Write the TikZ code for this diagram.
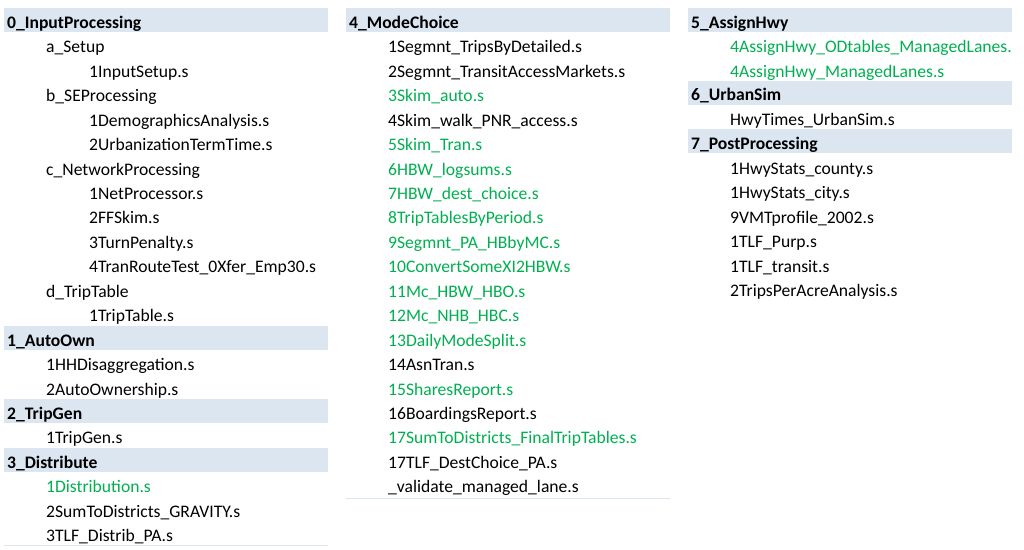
\documentclass[tikz,border=0pt]{standalone}
\usepackage{fontspec}
\setmainfont{Carlito}
\usepackage{xcolor}
\definecolor{HdrBlue}{HTML}{DCE6F1}
\definecolor{XlGreen}{HTML}{00B050}
\usepackage{tikz}

\begin{document}
\begin{tikzpicture}[x=1pt, y=-1pt,
		hdr/.style={anchor=base west, inner sep=0pt, font=\fontsize{17.6pt}{20pt}\selectfont\bfseries},
		itm/.style={anchor=base west, inner sep=0pt, font=\fontsize{17.6pt}{20pt}\selectfont},
		grn/.style={itm, text=XlGreen}]

	\useasboundingbox (0,0) rectangle (1024,549);

	% header bars
	\fill [HdrBlue] (4,8) rectangle (328,32);
	\fill [HdrBlue] (4,325.85) rectangle (328,349.85);
	\fill [HdrBlue] (4,399.2) rectangle (328,423.2);
	\fill [HdrBlue] (4,448.1) rectangle (328,472.1);
	\fill [HdrBlue] (346,8) rectangle (670,32);
	\fill [HdrBlue] (688,8) rectangle (1012,32);
	\fill [HdrBlue] (688,80.5) rectangle (1012,104.5);
	\fill [HdrBlue] (688,129) rectangle (1012,153);

	\draw [HdrBlue, line width=1pt] (4,545.5) -- (328,545.5);
	\draw [HdrBlue, line width=1pt] (346,498.5) -- (670,498.5);

	% column 1
	\node[hdr] (inproc) at (7,28.3) {0\_InputProcessing};
	\node[itm] (setup) at (46,52.75) {a\_Setup};
	\node[itm] (inputsetup) at (89,77.2) {1InputSetup.s};
	\node[itm] (seproc) at (46,101.65) {b\_SEProcessing};
	\node[itm] (demog) at (89,126.1) {1DemographicsAnalysis.s};
	\node[itm] (urbterm) at (89,150.55) {2UrbanizationTermTime.s};
	\node[itm] (netproc) at (46,175.0) {c\_NetworkProcessing};
	\node[itm] (netprocessor) at (89,199.45) {1NetProcessor.s};
	\node[itm] (ffskim) at (89,223.9) {2FFSkim.s};
	\node[itm] (turnpen) at (89,248.35) {3TurnPenalty.s};
	\node[itm] (tranroute) at (89,272.8) {4TranRouteTest\_0Xfer\_Emp30.s};
	\node[itm] (triptab) at (46,297.25) {d\_TripTable};
	\node[itm] (triptable) at (89,321.7) {1TripTable.s};
	\node[hdr] (autoown) at (7,346.15) {1\_AutoOwn};
	\node[itm] (hhdis) at (46,370.6) {1HHDisaggregation.s};
	\node[itm] (autoship) at (46,395.05) {2AutoOwnership.s};
	\node[hdr] (tripgen) at (7,419.5) {2\_TripGen};
	\node[itm] (tripgens) at (46,443.95) {1TripGen.s};
	\node[hdr] (distrib) at (7,468.4) {3\_Distribute};
	\node[grn] (distribution) at (46,492.85) {1Distribution.s};
	\node[itm] (sumgrav) at (46,517.3) {2SumToDistricts\_GRAVITY.s};
	\node[itm] (tlfdist) at (46,541.75) {3TLF\_Distrib\_PA.s};

	% column 2
	\node[hdr] (modechoice) at (349,28.3) {4\_ModeChoice};
	\node[itm] (segdet) at (388,52.75) {1Segmnt\_TripsByDetailed.s};
	\node[itm] (segtran) at (388,77.2) {2Segmnt\_TransitAccessMarkets.s};
	\node[grn] (skimauto) at (388,101.65) {3Skim\_auto.s};
	\node[itm] (skimpnr) at (388,126.1) {4Skim\_walk\_PNR\_access.s};
	\node[grn] (skimtran) at (388,150.55) {5Skim\_Tran.s};
	\node[grn] (logsums) at (388,175.0) {6HBW\_logsums.s};
	\node[grn] (destchoice) at (388,199.45) {7HBW\_dest\_choice.s};
	\node[grn] (byperiod) at (388,223.9) {8TripTablesByPeriod.s};
	\node[grn] (hbbymc) at (388,248.35) {9Segmnt\_PA\_HBbyMC.s};
	\node[grn] (convxi) at (388,272.8) {10ConvertSomeXI2HBW.s};
	\node[grn] (mchbw) at (388,297.25) {11Mc\_HBW\_HBO.s};
	\node[grn] (mcnhb) at (388,321.7) {12Mc\_NHB\_HBC.s};
	\node[grn] (dailysplit) at (388,346.15) {13DailyModeSplit.s};
	\node[itm] (asntran) at (388,370.6) {14AsnTran.s};
	\node[grn] (shares) at (388,395.05) {15SharesReport.s};
	\node[itm] (boardings) at (388,419.5) {16BoardingsReport.s};
	\node[grn] (sumfinal) at (388,443.95) {17SumToDistricts\_FinalTripTables.s};
	\node[itm] (tlfdest) at (388,468.4) {17TLF\_DestChoice\_PA.s};
	\node[itm] (validate) at (388,492.85) {\_validate\_managed\_lane.s};

	% column 3
	\node[hdr] (assignhwy) at (691,28.3) {5\_AssignHwy};
	\node[grn] (odtables) at (730,52.75) {4AssignHwy\_ODtables\_ManagedLanes.};
	\node[grn] (managed) at (730,77.2) {4AssignHwy\_ManagedLanes.s};
	\node[hdr] (urbansim) at (691,100.8) {6\_UrbanSim};
	\node[itm] (hwytimes) at (730,125.2) {HwyTimes\_UrbanSim.s};
	\node[hdr] (postproc) at (691,149.3) {7\_PostProcessing};
	\node[itm] (county) at (730,174.0) {1HwyStats\_county.s};
	\node[itm] (city) at (730,198.5) {1HwyStats\_city.s};
	\node[itm] (vmt) at (730,223.0) {9VMTprofile\_2002.s};
	\node[itm] (tlfpurp) at (730,247.5) {1TLF\_Purp.s};
	\node[itm] (tlftransit) at (730,272.0) {1TLF\_transit.s};
	\node[itm] (peracre) at (730,296.5) {2TripsPerAcreAnalysis.s};

\end{tikzpicture}
\end{document}
